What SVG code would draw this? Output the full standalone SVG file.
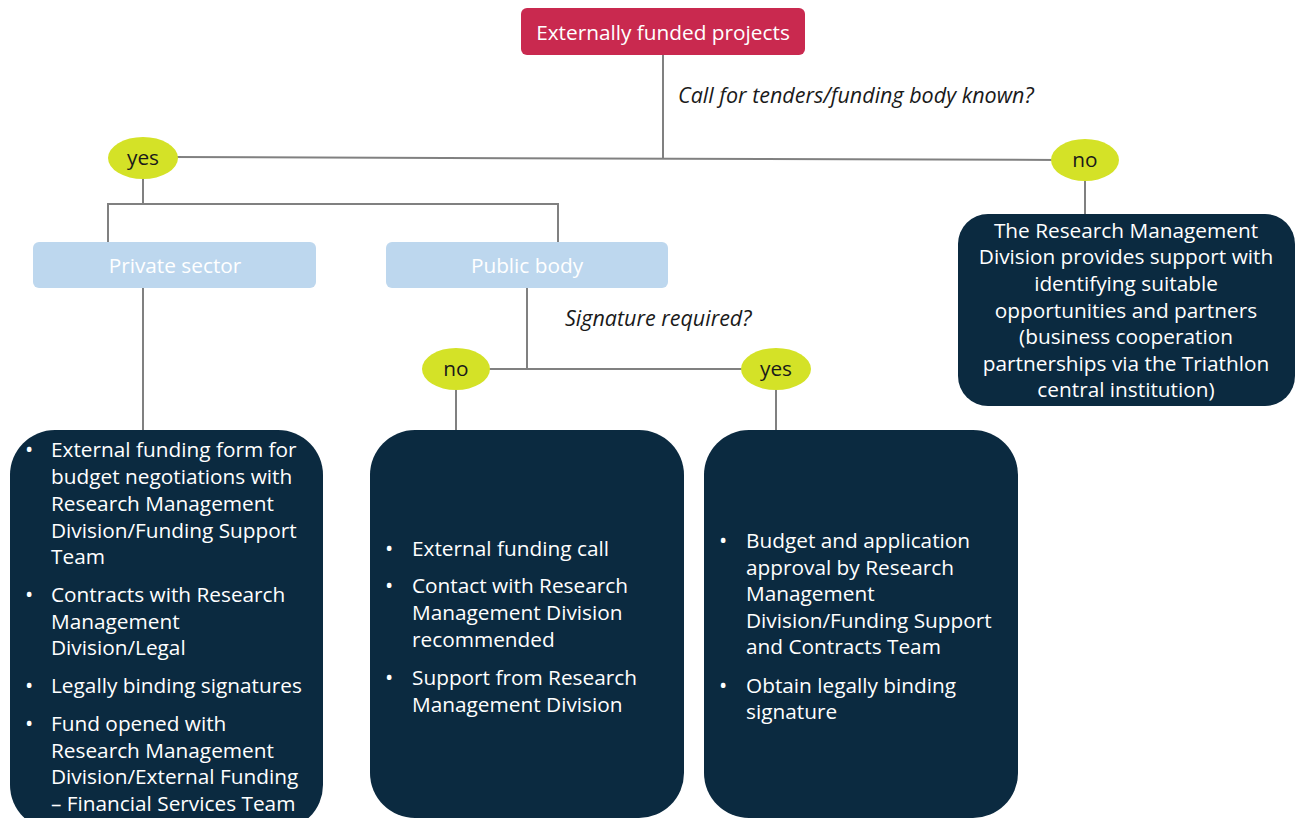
<svg xmlns="http://www.w3.org/2000/svg" width="1300" height="818" viewBox="0 0 1300 818">
<style>
text{font-family:"Open Sans","Noto Sans","Liberation Sans",sans-serif;font-size:20.8px}
.w{fill:#ffffff}
.b{fill:#ffffff;font-size:22px}
.wc{fill:#ffffff;text-anchor:middle}
.d{fill:#1a1a1a;text-anchor:middle}
.q{fill:#1a1a1a;font-style:italic;font-size:21.5px}
.navy{fill:#0b2a40}
.yg{fill:#d4e227}
.lb{fill:#bdd7ee}
.conn line{stroke:#808080;stroke-width:2}
</style>
<rect width="1300" height="818" fill="#ffffff"/>
<g class="conn" id="connectors">
<line x1="663" y1="55" x2="663" y2="158"/>
<line x1="170" y1="157" x2="1060" y2="160"/>
<line x1="143" y1="178" x2="143" y2="204"/>
<line x1="107" y1="204" x2="559" y2="204"/>
<line x1="108" y1="204" x2="108" y2="242"/>
<line x1="558" y1="204" x2="558" y2="242"/>
<line x1="1085" y1="180" x2="1085" y2="214"/>
<line x1="143" y1="288" x2="143" y2="431"/>
<line x1="527" y1="288" x2="527" y2="369"/>
<line x1="480" y1="369" x2="750" y2="369"/>
<line x1="456" y1="389" x2="456" y2="431"/>
<line x1="776" y1="389" x2="776" y2="431"/>
</g>
<g id="n-root">
<rect x="521" y="8" width="284" height="47" rx="6" fill="#c9294f"/>
<text class="wc" x="663" y="40">Externally funded projects</text>
</g>
<text class="q" x="678" y="103">Call for tenders/funding body known?</text>
<g id="n-yes1">
<ellipse class="yg" cx="143" cy="158" rx="35" ry="21"/>
<text class="d" x="143" y="165">yes</text>
</g>
<g id="n-no1">
<ellipse class="yg" cx="1085" cy="160" rx="34" ry="21"/>
<text class="d" x="1085" y="167">no</text>
</g>
<g id="n-private">
<rect class="lb" x="33" y="242" width="283" height="46" rx="6"/>
<text class="wc" x="175" y="273">Private sector</text>
</g>
<g id="n-public">
<rect class="lb" x="386" y="242" width="282" height="46" rx="6"/>
<text class="wc" x="527" y="273">Public body</text>
</g>
<text class="q" x="565" y="326">Signature required?</text>
<g id="n-no2">
<ellipse class="yg" cx="456" cy="369" rx="34" ry="21"/>
<text class="d" x="456" y="376">no</text>
</g>
<g id="n-yes2">
<ellipse class="yg" cx="776" cy="369" rx="35" ry="21"/>
<text class="d" x="776" y="376">yes</text>
</g>
<g id="n-support">
<rect class="navy" x="958" y="214" width="337" height="192" rx="30"/>
<text class="wc" x="1126" y="238">The Research Management</text>
<text class="wc" x="1126" y="264">Division provides support with</text>
<text class="wc" x="1126" y="291">identifying suitable</text>
<text class="wc" x="1126" y="318">opportunities and partners</text>
<text class="wc" x="1126" y="344">(business cooperation</text>
<text class="wc" x="1126" y="371">partnerships via the Triathlon</text>
<text class="wc" x="1126" y="397">central institution)</text>
</g>
<g id="n-privatebox">
<rect class="navy" x="10" y="430" width="313" height="400" rx="45"/>
<text class="b" x="25" y="457">•</text>
<text class="w" x="51" y="457">External funding form for</text>
<text class="w" x="51" y="484">budget negotiations with</text>
<text class="w" x="51" y="511">Research Management</text>
<text class="w" x="51" y="538">Division/Funding Support</text>
<text class="w" x="51" y="564">Team</text>
<text class="b" x="25" y="602">•</text>
<text class="w" x="51" y="602">Contracts with Research</text>
<text class="w" x="51" y="629">Management</text>
<text class="w" x="51" y="655">Division/Legal</text>
<text class="b" x="25" y="693">•</text>
<text class="w" x="51" y="693">Legally binding signatures</text>
<text class="b" x="25" y="731">•</text>
<text class="w" x="51" y="731">Fund opened with</text>
<text class="w" x="51" y="758">Research Management</text>
<text class="w" x="51" y="784">Division/External Funding</text>
<text class="w" x="51" y="811">– Financial Services Team</text>
</g>
<g id="n-nobox">
<rect class="navy" x="370" y="430" width="314" height="388" rx="45"/>
<text class="b" x="385" y="556">•</text>
<text class="w" x="412" y="556">External funding call</text>
<text class="b" x="385" y="593">•</text>
<text class="w" x="412" y="593">Contact with Research</text>
<text class="w" x="412" y="620">Management Division</text>
<text class="w" x="412" y="647">recommended</text>
<text class="b" x="385" y="685">•</text>
<text class="w" x="412" y="685">Support from Research</text>
<text class="w" x="412" y="712">Management Division</text>
</g>
<g id="n-yesbox">
<rect class="navy" x="704" y="430" width="314" height="388" rx="45"/>
<text class="b" x="719" y="548">•</text>
<text class="w" x="746" y="548">Budget and application</text>
<text class="w" x="746" y="575">approval by Research</text>
<text class="w" x="746" y="601">Management</text>
<text class="w" x="746" y="628">Division/Funding Support</text>
<text class="w" x="746" y="654">and Contracts Team</text>
<text class="b" x="719" y="693">•</text>
<text class="w" x="746" y="693">Obtain legally binding</text>
<text class="w" x="746" y="719">signature</text>
</g>
</svg>
